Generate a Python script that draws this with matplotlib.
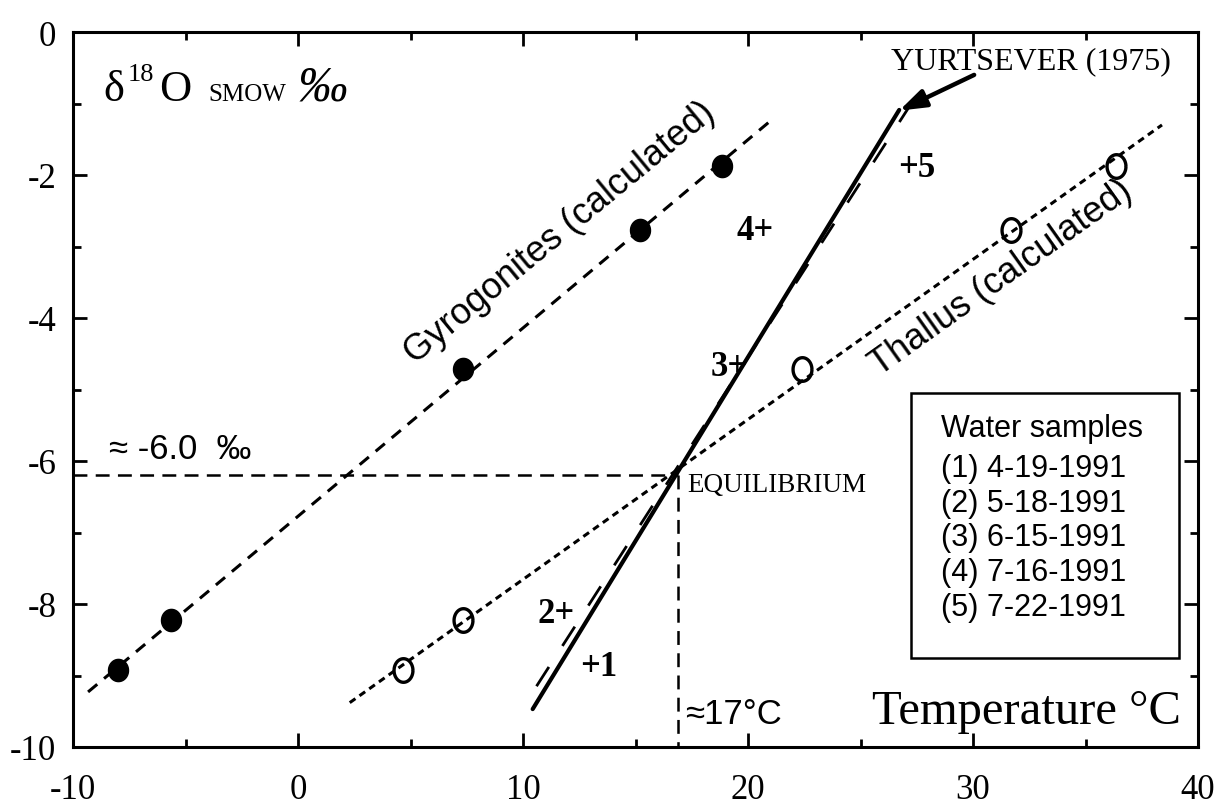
"""
d18O vs temperature: gyrogonites / thallus equilibrium lines and water samples.
"""
import numpy as np
import matplotlib
matplotlib.use("Agg")
import matplotlib.pyplot as plt
from matplotlib.path import Path
from matplotlib.patches import Rectangle
from matplotlib.ticker import MultipleLocator

# ---------------------------------------------------------------------------
# Data
# ---------------------------------------------------------------------------
d18o_samples = [-8.92, -8.22, -4.72, -2.77, -1.87]       # per mil SMOW
t_gyrogonites = [-8.0, -5.65, 7.32, 15.22, 18.86]        # deg C (calculated)
t_thallus = [4.65, 7.32, 22.41, 31.70, 36.36]            # deg C (calculated)

t_water = [12.96, 12.07, 19.84, 20.95, 26.95]
d18o_water = [-8.87, -8.13, -4.68, -2.77, -1.90]
water_labels = ["+1", "2+", "3+", "4+", "+5"]
water_dx = [9, -13, -15, -14, 12]                        # px, '+' to text centre

gyro_line_t, gyro_line_d = [-9.33, 21.2], [-9.23, -1.19]
thallus_line_t, thallus_line_d = [2.3, 38.4], [-9.38, -1.30]
water_line_t, water_line_d = [10.43, 26.72], [-9.47, -1.09]
yurt_line_t, yurt_line_d = [10.6, 27.4], [-9.15, -0.93]

eq_t, eq_d = 16.9, -6.2

legend_lines = ["(1) 4-19-1991", "(2) 5-18-1991", "(3) 6-15-1991",
                "(4) 7-16-1991", "(5) 7-22-1991"]

xticks = [-10, 0, 10, 20, 30, 40]
yticks = [0, -2, -4, -6, -8, -10]

SERIF = "Liberation Serif"
SANS = "Liberation Sans"

plt.rcParams["font.family"] = SERIF
plt.rcParams["lines.scale_dashes"] = False

# ---------------------------------------------------------------------------
# Plot
# ---------------------------------------------------------------------------
fig = plt.figure(figsize=(12.24, 8.12), dpi=100)
ax = fig.add_axes([73 / 1224, 64 / 812, 1125 / 1224, 715 / 812])
ax.set_xlim(-10, 40)
ax.set_ylim(-10, 0)

# equilibrium reference lines
ax.plot([-10, eq_t], [eq_d, eq_d], color="k", lw=1.8, dashes=(10, 6))
ax.plot([eq_t, eq_t], [eq_d, -10], color="k", lw=1.8, dashes=(10, 6))

# calculated lines
ax.plot(gyro_line_t, gyro_line_d, color="k", lw=2.2, dashes=(8.6, 6.4))
ax.plot(thallus_line_t, thallus_line_d, color="k", lw=2.2, dashes=(5, 3.6))

# water line and Yurtsever line
ax.plot(water_line_t, water_line_d, color="k", lw=3.0, solid_capstyle="round")
ax.plot(yurt_line_t, yurt_line_d, color="k", lw=2.0, dashes=(16.5, 18))

# points
theta = np.linspace(0, 2 * np.pi, 64)
ell_open = Path(np.column_stack([0.8 * np.cos(theta), np.sin(theta)]))
ell_full = Path(np.column_stack([0.9 * np.cos(theta), np.sin(theta)]))
ax.plot(t_gyrogonites, d18o_samples, ls="none", marker=ell_full,
        ms=16, color="k")
ax.plot(t_thallus, d18o_samples, ls="none", marker=ell_open,
        ms=17, mfc="none", mec="k", mew=2.4)

for t, d, lab, dx in zip(t_water, d18o_water, water_labels, water_dx):
    ax.annotate(lab, (t, d), xytext=(dx, 0), textcoords="offset pixels",
                ha="center", va="center", fontsize=25, fontweight="bold")

# labels along lines
ax.text(5.19, -4.64, "Gyrogonites (calculated)", family=SANS, fontsize=26,
        rotation=39.5, rotation_mode="anchor", ha="left", va="baseline")
ax.text(25.84, -4.80, "Thallus (calculated)", family=SANS, fontsize=26,
        rotation=35.4, rotation_mode="anchor", ha="left", va="baseline")

# y label pieces
ax.text(-8.67, -0.95, "\u03b4", fontsize=32, va="baseline")
ax.text(-7.56, -0.67, "18", fontsize=19, va="baseline")
ax.text(-6.18, -0.95, "O", fontsize=32, va="baseline")
ax.text(-4.0, -0.95, "SMOW", fontsize=18, va="baseline")
ax.text(0.0, -0.95, "\u2030", fontsize=36, va="baseline", style="italic")

ax.text(-8.40, -5.96, "\u2248 -6.0  \u2030", family=SANS, fontsize=25,
        va="baseline")
ax.text(17.31, -6.42, "EQUILIBRIUM", fontsize=19.5, va="baseline")
ax.text(17.22, -9.66, "\u224817\u00b0C", family=SANS, fontsize=25,
        va="baseline")
ax.text(39.25, -9.66, "Temperature \u00b0C", fontsize=35, ha="right",
        va="baseline")

# Yurtsever annotation
ax.annotate("", xy=(26.72, -1.10), xytext=(30.05, -0.60),
            arrowprops=dict(arrowstyle="-|>,head_length=1.6,head_width=0.55",
                            lw=3.2, color="k", shrinkA=0, shrinkB=0))
ax.text(26.37, -0.50, "YURTSEVER (1975)", fontsize=23, va="baseline")

# legend box
ax.add_patch(Rectangle((27.26, -8.755), 11.9, 3.705, fill=False,
                       lw=1.8, ec="k"))
ax.text(28.59, -5.65, "Water samples", family=SANS, fontsize=22,
        va="baseline")
for i, line in enumerate(legend_lines):
    ax.text(28.59, -6.21 - 0.485 * i, line, family=SANS, fontsize=22,
            va="baseline")

# axes styling
ax.set_xticks(xticks)
ax.set_xticklabels([str(v) for v in xticks])
ax.set_yticks(yticks)
ax.set_yticklabels([str(v) for v in yticks])
ax.xaxis.set_minor_locator(MultipleLocator(5))
ax.yaxis.set_minor_locator(MultipleLocator(1))
ax.tick_params(which="both", direction="in", top=True, right=True,
               width=2, labelsize=25)
ax.tick_params(which="major", length=10)
ax.tick_params(which="minor", length=5.5)
ax.tick_params(axis="x", pad=19)
ax.tick_params(axis="y", pad=12)
for sp in ax.spines.values():
    sp.set_linewidth(2.2)

fig.savefig("out.png", dpi=100)
